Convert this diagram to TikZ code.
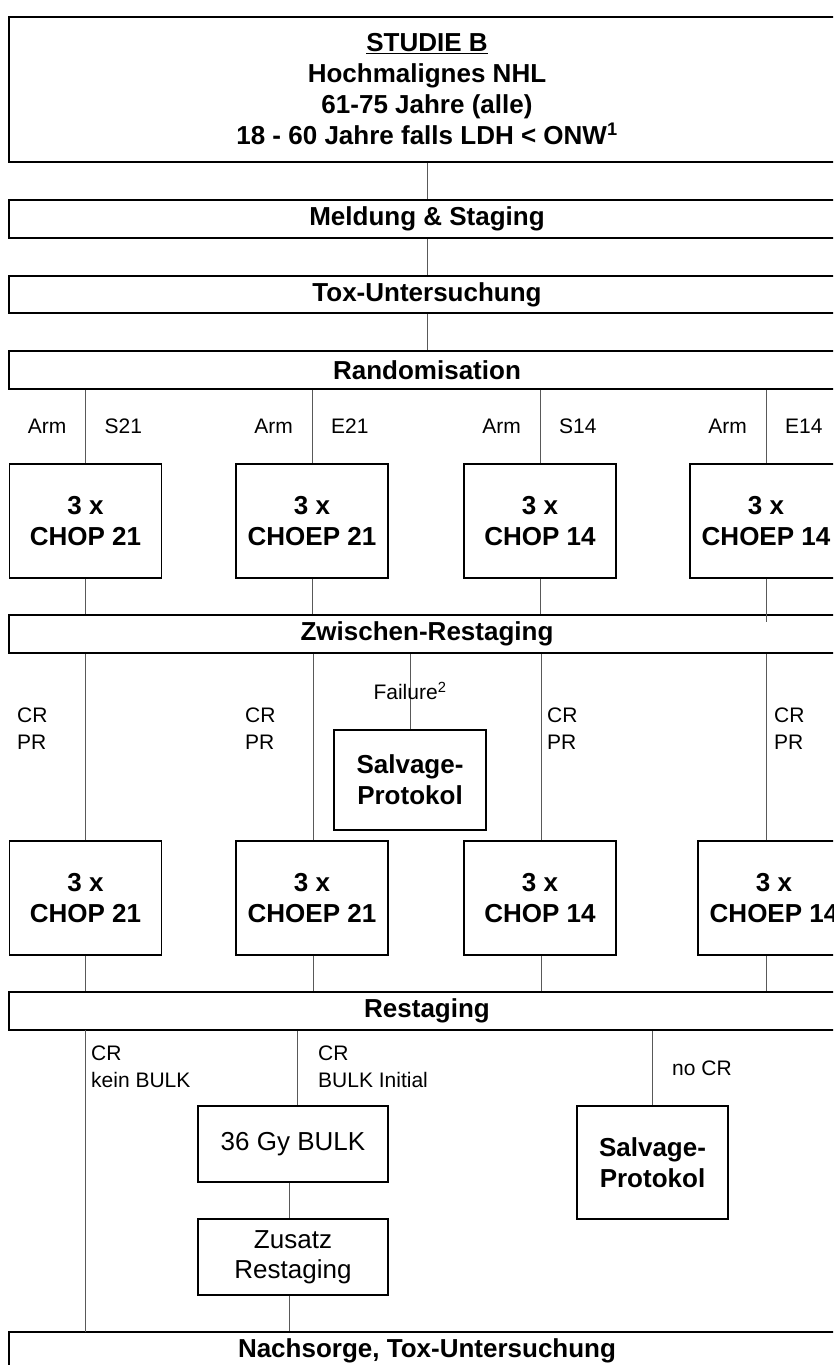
\documentclass[tikz,border=0pt]{standalone}
\usepackage{fontspec}
\setmainfont{Liberation Sans}
\tikzset{
  box/.style={draw=black, line width=1.6pt, inner sep=0pt, align=center,
    font=\bfseries\fontsize{26}{31}\selectfont},
  bar/.style={box, minimum width=836pt, minimum height=38pt},
  armbox/.style={box, minimum width=152pt, minimum height=114pt},
  salvbox/.style={box, minimum width=152pt},
  plainbox/.style={draw=black, line width=1.6pt, inner sep=0pt, align=center,
    font=\fontsize{26}{30}\selectfont, minimum width=190pt, minimum height=76pt},
  lbl/.style={inner sep=0pt, font=\fontsize{21}{27}\selectfont, align=left},
  conn/.style={draw=black!65, line width=1pt},
}
\begin{document}
\begin{tikzpicture}[x=1pt,y=-1pt]
\useasboundingbox (0,0) rectangle (833,1365);
\clip (0,0) rectangle (833,1365);
\fill[white] (0,0) rectangle (833,1365);

% header and bars
\node[box, minimum width=836pt, minimum height=145pt] (top) at (427,89.5)
  {\underline{STUDIE B}\\Hochmalignes NHL\\61-75 Jahre (alle)\\18 - 60 Jahre falls LDH < ONW\textsuperscript{1}};
\node[bar] (meld) at (427,219) {Meldung \& Staging};
\node[bar, minimum height=37pt] (tox) at (427,294.5) {Tox-Untersuchung};
\node[bar] (rand) at (427,370) {Randomisation};
\node[bar] (zw) at (427,634) {Zwischen-Restaging};
\node[bar] (rest) at (427,1011) {Restaging};
\node[bar] (nach) at (427,1351) {Nachsorge, Tox-Untersuchung};

\draw[conn] (top.south) -- (meld.north);
\draw[conn] (meld.south) -- (tox.north);
\draw[conn] (tox.south) -- (rand.north);

% first row
\node[armbox] (a1) at (85.5,521) {3 x\\CHOP 21};
\node[armbox] (a2) at (312,521) {3 x\\CHOEP 21};
\node[armbox] (a3) at (540,521) {3 x\\CHOP 14};
\node[armbox] (a4) at (766,521) {3 x\\CHOEP 14};

\foreach \i/\arm in {1/S21,2/E21,3/S14,4/E14}{
  \draw[conn] (a\i.north) -- (a\i.north |- rand.south);
  \node[lbl, anchor=east] (arml\i) at ([xshift=-19pt]a\i.north |- 0,426) {Arm};
  \node[lbl, anchor=west] (armr\i) at ([xshift=19pt]a\i.north |- 0,426) {\arm};
}
\draw[conn] (a1.south) -- (a1.south |- zw.north);
\draw[conn] (a2.south) -- (a2.south |- zw.north);
\draw[conn] (a3.south) -- (a3.south |- zw.north);
\draw[conn, shorten >=-8pt] (a4.south) -- (a4.south |- zw.north);

% second row
\node[armbox] (c1) at (85.5,898) {3 x\\CHOP 21};
\node[armbox] (c2) at (312,898) {3 x\\CHOEP 21};
\node[armbox] (c3) at (540,898) {3 x\\CHOP 14};
\node[armbox] (c4) at (774,898) {3 x\\CHOEP 14};

\draw[conn] (c1.north) -- (c1.north |- zw.south);
\draw[conn] ([xshift=1pt]c2.north) -- ([xshift=1pt]c2.north |- zw.south);
\draw[conn] ([xshift=1pt]c3.north) -- ([xshift=1pt]c3.north |- zw.south);
\draw[conn] ([xshift=-8pt]c4.north) -- ([xshift=-8pt]c4.north |- zw.south);

\node[lbl, anchor=west] (cr1) at (17,729) {CR\\PR};
\node[lbl, anchor=west] (cr2) at (245,729) {CR\\PR};
\node[lbl, anchor=west] (cr3) at (547,729) {CR\\PR};
\node[lbl, anchor=west] (cr4) at (774,729) {CR\\PR};

% failure branch
\node[salvbox, minimum height=100pt] (salv1) at (410,780) {Salvage-\\Protokol};
\draw[conn] (salv1.north) -- (salv1.north |- zw.south);
\node[lbl] (fail) at (410,691) {Failure\textsuperscript{2}};

\draw[conn] (c1.south) -- (c1.south |- rest.north);
\draw[conn] ([xshift=1pt]c2.south) -- ([xshift=1pt]c2.south |- rest.north);
\draw[conn] ([xshift=1pt]c3.south) -- ([xshift=1pt]c3.south |- rest.north);
\draw[conn] ([xshift=-8pt]c4.south) -- ([xshift=-8pt]c4.south |- rest.north);

% after restaging
\node[plainbox] (bulk) at (293,1144) {36 Gy BULK};
\node[plainbox] (zus) at (293,1257) {Zusatz\\Restaging};
\node[salvbox, minimum width=151pt, minimum height=113pt] (salv2) at (652.5,1162.5) {Salvage-\\Protokol};

\draw[conn] (85,1030) -- (85,1332);
\draw[conn] ([xshift=4pt]bulk.north) -- ([xshift=4pt]bulk.north |- rest.south);
\draw[conn] ([xshift=-4pt]bulk.south) -- ([xshift=-4pt]zus.north);
\draw[conn] ([xshift=-4pt]zus.south) -- ([xshift=-4pt]zus.south |- nach.north);
\draw[conn] (salv2.north) -- (salv2.north |- rest.south);

\node[lbl, anchor=west] (crk) at (91,1067) {CR\\kein BULK};
\node[lbl, anchor=west] (crb) at (318,1067) {CR\\BULK Initial};
\node[lbl, anchor=west] (nocr) at (672,1068) {no CR};
\end{tikzpicture}
\end{document}
